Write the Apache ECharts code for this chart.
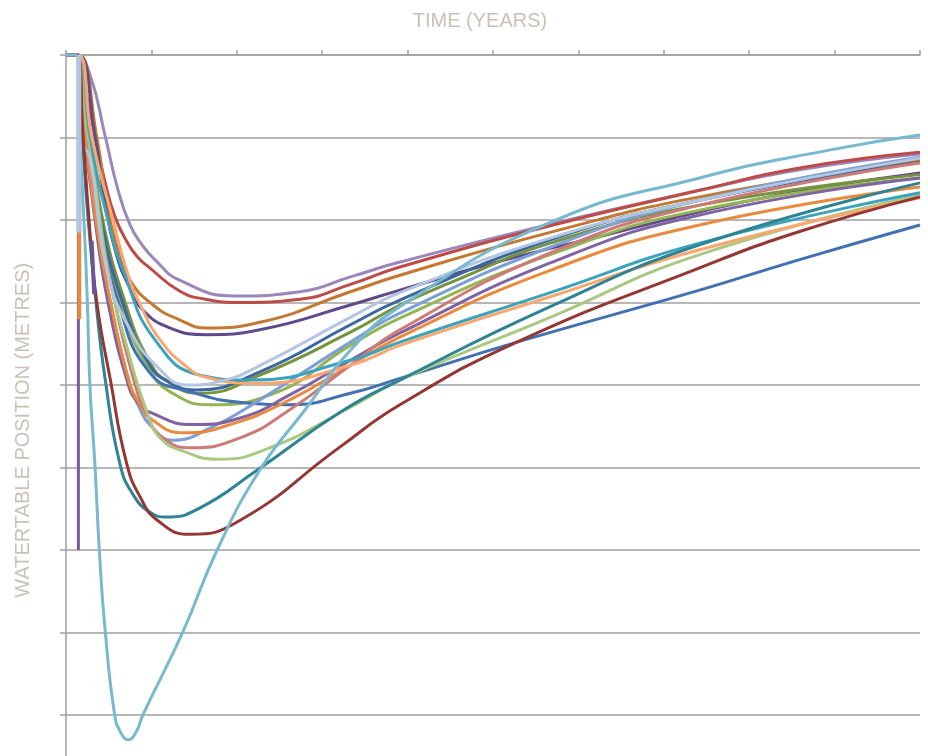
<!DOCTYPE html>
<html style="height: 100%">
<head>
    <meta charset="utf-8">
    <title>Watertable position</title>
    <script src="https://cdn.jsdelivr.net/npm/echarts@6/dist/echarts.min.js"></script>
</head>
<body style="height: 100%; margin: 0; overflow: hidden">
<!-- taller than the window: the lowest band of the chart falls below the picture, as in the original -->
<div id="main" style="width: 928px; height: 800px"></div>

<script type="text/javascript">
    // [time (years), watertable position (metres)]
    var lightPurple = [[0,0],[0.12,0],[0.28,-0.24],[0.46,-0.99],[0.61,-1.64],[0.75,-2.06],[0.89,-2.3],[1.04,-2.48],[1.33,-2.73],[1.98,-2.92],[2.74,-2.87],[3.33,-2.69],[3.91,-2.51],[5.67,-2.05],[7.42,-1.64],[8.59,-1.39],[10,-1.2]];
    var red = [[0,0],[0.14,0],[0.23,-0.42],[0.34,-0.99],[0.46,-1.55],[0.57,-1.95],[0.69,-2.22],[0.83,-2.44],[0.98,-2.58],[1.33,-2.86],[1.63,-2.96],[2.04,-3.0],[2.74,-2.96],[3.33,-2.78],[3.91,-2.57],[5.67,-2.07],[7.42,-1.64],[8.59,-1.37],[10,-1.18]];
    var orangeBrown = [[0,0],[0.14,0],[0.36,-0.99],[0.49,-1.88],[0.61,-2.36],[0.75,-2.73],[1.02,-3.03],[1.33,-3.21],[1.65,-3.31],[2.27,-3.24],[3.33,-2.87],[3.91,-2.67],[5.67,-2.15],[7.42,-1.72],[10,-1.28]];
    var darkPurple = [[0,0],[0.14,0],[0.34,-0.99],[0.47,-1.88],[0.59,-2.42],[0.73,-2.79],[0.9,-3.09],[1.22,-3.31],[1.65,-3.39],[2.27,-3.33],[3.33,-3.03],[3.91,-2.85],[5.08,-2.5],[6.25,-2.2],[7.42,-1.9],[8.59,-1.65],[10,-1.43]];
    var steelBlue = [[0,0],[0.13,0],[0.17,-1.0],[0.28,-1.25],[0.48,-2.61],[0.75,-3.33],[1.07,-3.78],[1.42,-4.0],[1.83,-3.95],[2.24,-3.78],[3.33,-3.18],[3.91,-2.88],[5.67,-2.22],[7.42,-1.76],[10,-1.25]];
    var olive = [[0,0],[0.14,0],[0.28,-0.99],[0.43,-2.0],[0.69,-2.99],[0.98,-3.72],[1.22,-3.98],[1.57,-4.1],[2.27,-3.88],[3.33,-3.36],[3.91,-3.03],[4.5,-2.76],[5.67,-2.28],[7.42,-1.82],[10,-1.45]];
    var green = [[0,0],[0.14,0],[0.26,-0.99],[0.4,-2.0],[0.63,-2.99],[0.98,-3.82],[1.28,-4.12],[1.69,-4.24],[2.39,-4.12],[3.33,-3.52],[3.91,-3.19],[5.67,-2.42],[7.42,-1.88],[10,-1.49]];
    var darkSteel = [[0,0],[0.14,0],[0.27,-0.99],[0.41,-2.0],[0.66,-2.99],[0.98,-3.76],[1.22,-3.97],[1.51,-4.06],[2.27,-3.84],[3.33,-3.27],[3.91,-2.97],[5.67,-2.24],[7.42,-1.76],[10,-1.3]];
    var blue = [[0,0],[0.14,0],[0.26,-0.99],[0.4,-2.0],[0.61,-2.99],[0.98,-3.85],[1.45,-4.08],[2.15,-4.22],[2.62,-4.24],[3.33,-4.1],[3.91,-3.92],[5.28,-3.48],[7.42,-2.85],[8.59,-2.48],[10,-2.06]];
    var cornflower = [[0,0],[0.14,0],[0.23,-0.99],[0.35,-2.0],[0.52,-2.99],[0.75,-4.0],[0.87,-4.3],[0.98,-4.48],[1.25,-4.67],[1.69,-4.52],[2.27,-4.18],[3.33,-3.48],[3.91,-3.13],[5.67,-2.33],[7.42,-1.76],[10,-1.24]];
    var purple = [[0,0],[0.14,0],[0.22,-0.99],[0.34,-2.0],[0.49,-2.99],[0.73,-4.0],[0.84,-4.21],[0.98,-4.33],[1.49,-4.48],[2.04,-4.4],[2.62,-4.12],[3.33,-3.7],[3.91,-3.37],[5.67,-2.52],[7.42,-1.94],[10,-1.49]];
    var orange = [[0,0],[0.14,0],[0.23,-0.99],[0.35,-2.0],[0.52,-2.99],[0.75,-4.0],[0.87,-4.24],[0.98,-4.4],[1.37,-4.58],[1.92,-4.48],[2.62,-4.18],[3.33,-3.76],[3.91,-3.42],[5.67,-2.61],[7.42,-2.06],[10,-1.6]];
    var pink = [[0,0],[0.14,0],[0.25,-0.99],[0.39,-2.0],[0.57,-2.99],[0.81,-4.0],[0.95,-4.36],[1.1,-4.61],[1.45,-4.76],[2.04,-4.64],[2.62,-4.3],[3.33,-3.76],[3.91,-3.33],[5.67,-2.4],[7.42,-1.82],[10,-1.31]];
    var lightGreen = [[0,0],[0.16,0],[0.23,-0.79],[0.32,-1.39],[0.4,-2.0],[0.49,-2.61],[0.69,-3.45],[0.98,-4.42],[1.13,-4.67],[1.34,-4.79],[1.77,-4.9],[2.39,-4.76],[3.33,-4.27],[3.91,-3.94],[5.67,-3.18],[7.42,-2.42],[10,-1.7]];
    var lightOrange = [[0,0],[0.14,0],[0.3,-0.99],[0.55,-2.0],[0.71,-2.61],[0.87,-3.03],[1.1,-3.45],[1.39,-3.76],[1.65,-3.91],[2.24,-3.98],[3.33,-3.76],[3.91,-3.52],[5.67,-2.93],[7.42,-2.36],[10,-1.73]];
    var aqua = [[0,0],[0.14,0],[0.28,-0.99],[0.49,-2.0],[0.69,-2.67],[1.04,-3.45],[1.57,-3.88],[2.15,-3.94],[3.33,-3.7],[3.91,-3.48],[5.67,-2.88],[7.42,-2.28],[10,-1.67]];
    var teal = [[0,0],[0.13,0],[0.19,-0.99],[0.26,-2.0],[0.35,-2.99],[0.46,-3.94],[0.63,-4.95],[0.78,-5.32],[0.98,-5.54],[1.18,-5.6],[1.57,-5.49],[2.24,-5.03],[3.21,-4.33],[3.91,-3.94],[5.67,-3.05],[7.42,-2.3],[10,-1.55]];
    var darkRed = [[0,0],[0.13,0],[0.2,-0.99],[0.27,-2.0],[0.36,-2.99],[0.52,-3.94],[0.71,-4.95],[0.87,-5.36],[1.07,-5.64],[1.45,-5.81],[2.04,-5.64],[3.21,-4.75],[3.91,-4.24],[5.28,-3.48],[7.42,-2.58],[8.59,-2.14],[10,-1.72]];
    var cyan = [[0,0],[0.12,0],[0.16,-0.99],[0.21,-2.0],[0.25,-2.99],[0.28,-4.0],[0.34,-4.99],[0.39,-6.0],[0.46,-6.99],[0.57,-8.0],[0.64,-8.21],[0.73,-8.3],[0.82,-8.21],[0.9,-8.0],[1.37,-6.99],[1.77,-6.0],[2.27,-5.03],[2.8,-4.3],[3.33,-3.58],[3.91,-3.05],[5.67,-2.03],[7.42,-1.49],[8.95,-1.15],[10,-0.97]];

    // early-time jumps in some runs
    var spikePurple = [[0.145,-0.2],[0.145,-6.0]];
    var spikeDarkPurple = [[0.3,-2.25],[0.33,-2.9]];
    var spikeOrange = [[0.155,-1.6],[0.155,-3.2]];
    var spikeSteel = [[0.15,0],[0.15,-2.15]];

    var curves = [
        [lightPurple, '#9b87b9'],
        [red, '#be4b48'],
        [orangeBrown, '#c5782f'],
        [darkPurple, '#5e4b8b'],
        [olive, '#77933c'],
        [green, '#93b552'],
        [darkSteel, '#3a67a0'],
        [blue, '#4170b3'],
        [cornflower, '#7ca0d4'],
        [purple, '#7f63a3'],
        [orange, '#eb8a3d'],
        [pink, '#ce7b78'],
        [lightGreen, '#abc880'],
        [aqua, '#3ba3bc'],
        [lightOrange, '#f8a770'],
        [steelBlue, '#b3c5df'],
        [teal, '#2e8494'],
        [darkRed, '#943634'],
        [cyan, '#77b9d0']
    ];
    var spikes = [
        [spikePurple, '#7a5c9e', 3],
        [spikeDarkPurple, '#6a559a', 4],
        [spikeOrange, '#e8883a', 4],
        [spikeSteel, '#b3c5df', 5]
    ];

    var series = [];
    for (var i = 0; i < curves.length; i++) {
        series.push({
            type: 'line',
            data: curves[i][0],
            smooth: 0.5,
            showSymbol: false,
            lineStyle: {color: curves[i][1], width: 3},
            z: 2
        });
    }
    for (var j = 0; j < spikes.length; j++) {
        series.push({
            type: 'line',
            data: spikes[j][0],
            showSymbol: false,
            lineStyle: {color: spikes[j][1], width: spikes[j][2]},
            z: 3
        });
    }

    var axisGray = '#a0a0a0';
    var nameStyle = {color: '#c9c1b6', fontSize: 20, fontFamily: 'Liberation Sans'};

    var myChart = echarts.init(document.getElementById('main'));
    var option = {
        animation: false,
        grid: {left: 66, right: 8, top: 55, bottom: 2.5},
        xAxis: {
            type: 'value',
            position: 'top',
            min: 0,
            max: 10,
            interval: 1,
            name: 'TIME (YEARS)',
            nameLocation: 'middle',
            nameGap: 24,
            nameTextStyle: Object.assign({padding: [0, 26, 0, 0]}, nameStyle),
            axisLine: {onZero: false, lineStyle: {color: axisGray, width: 1.5}},
            axisTick: {show: true, length: 5, lineStyle: {color: axisGray, width: 1.5}},
            axisLabel: {show: false},
            splitLine: {show: false}
        },
        yAxis: {
            type: 'value',
            min: -9,
            max: 0,
            interval: 1,
            name: 'WATERTABLE POSITION (METRES)',
            nameLocation: 'middle',
            nameGap: 33,
            nameTextStyle: Object.assign({padding: [0, 8, 0, 0]}, nameStyle),
            axisLine: {show: true, lineStyle: {color: axisGray, width: 1.5}},
            axisTick: {show: true, length: 6, lineStyle: {color: axisGray, width: 1.5}},
            axisLabel: {show: false},
            splitLine: {show: true, lineStyle: {color: axisGray, width: 1.5}}
        },
        series: series
    };
    myChart.setOption(option, true);
</script>
</body>
</html>
